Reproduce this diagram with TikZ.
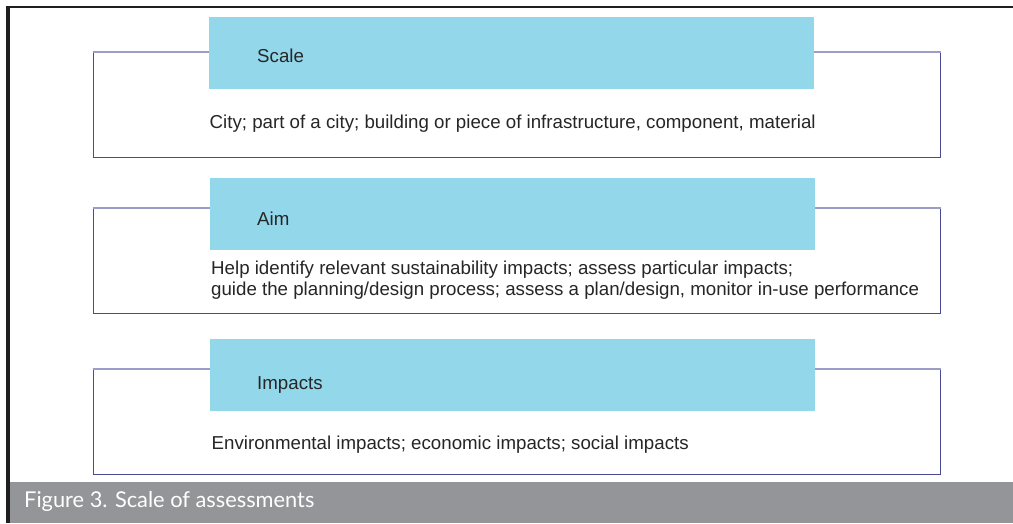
\documentclass[tikz,border=0pt]{standalone}
\usepackage{fontspec}
\setmainfont{Liberation Sans}
\newfontfamily\capfont{Lato}
\definecolor{hdrblue}{HTML}{93D7EA}
\definecolor{boxline}{HTML}{4A4A95}
\definecolor{boxlight}{HTML}{9C9CC9}
\definecolor{capgray}{HTML}{939598}
\definecolor{txt}{HTML}{262626}
\tikzset{
  outerbox/.style={draw=boxline, line width=1.2pt, fill=white, inner sep=0pt, anchor=north west, minimum width=847pt, minimum height=105pt},
  header/.style={fill=hdrblue, inner sep=0pt, anchor=north west, minimum width=605pt, minimum height=72pt},
  lbl/.style={inner sep=0pt, anchor=base west, text=txt, font=\fontsize{18.7}{21}\selectfont},
}
\begin{document}
\begin{tikzpicture}[x=1pt,y=-1pt]
\useasboundingbox (0,0) rectangle (1013,523);
\fill[white] (0,0) rectangle (1013,523);
% frame
\fill[black!88] (5.5,6) rectangle (10,523);
\fill[black!88] (5.5,6) rectangle (1013,8.3);
% caption bar
\fill[capgray] (10,482) rectangle (1013,523);
\node[inner sep=0pt, anchor=base west, text=white, font=\capfont\fontsize{21.8}{24}\selectfont] (cap) at (24,507.5) {Figure 3. Scale of assessments};
% box 1
\node[outerbox] (b1) at (92.5,52) {};
\draw[boxlight, line width=1.2pt] (b1.north west) -- (b1.north east);
\node[header] (h1) at (208.5,17) {};
\node[lbl] (t1) at (257,62) {Scale};
\node[lbl] (d1) at (209.5,128) {City; part of a city; building or piece of infrastructure, component, material};
% box 2
\node[outerbox] (b2) at (92.5,208) {};
\draw[boxlight, line width=1.2pt] (b2.north west) -- (b2.north east);
\node[header] (h2) at (209.5,178) {};
\node[lbl] (t2) at (257,225) {Aim};
\node[lbl] (d2a) at (211,274) {Help identify relevant sustainability impacts; assess particular impacts;};
\node[lbl] (d2b) at (211,295) {guide the planning/design process; assess a plan/design, monitor in-use performance};
% box 3
\node[outerbox] (b3) at (92.5,369) {};
\draw[boxlight, line width=1.2pt] (b3.north west) -- (b3.north east);
\node[header] (h3) at (209.5,339) {};
\node[lbl] (t3) at (257,389) {Impacts};
\node[lbl] (d3) at (211.5,449) {Environmental impacts; economic impacts; social impacts};
\end{tikzpicture}
\end{document}
